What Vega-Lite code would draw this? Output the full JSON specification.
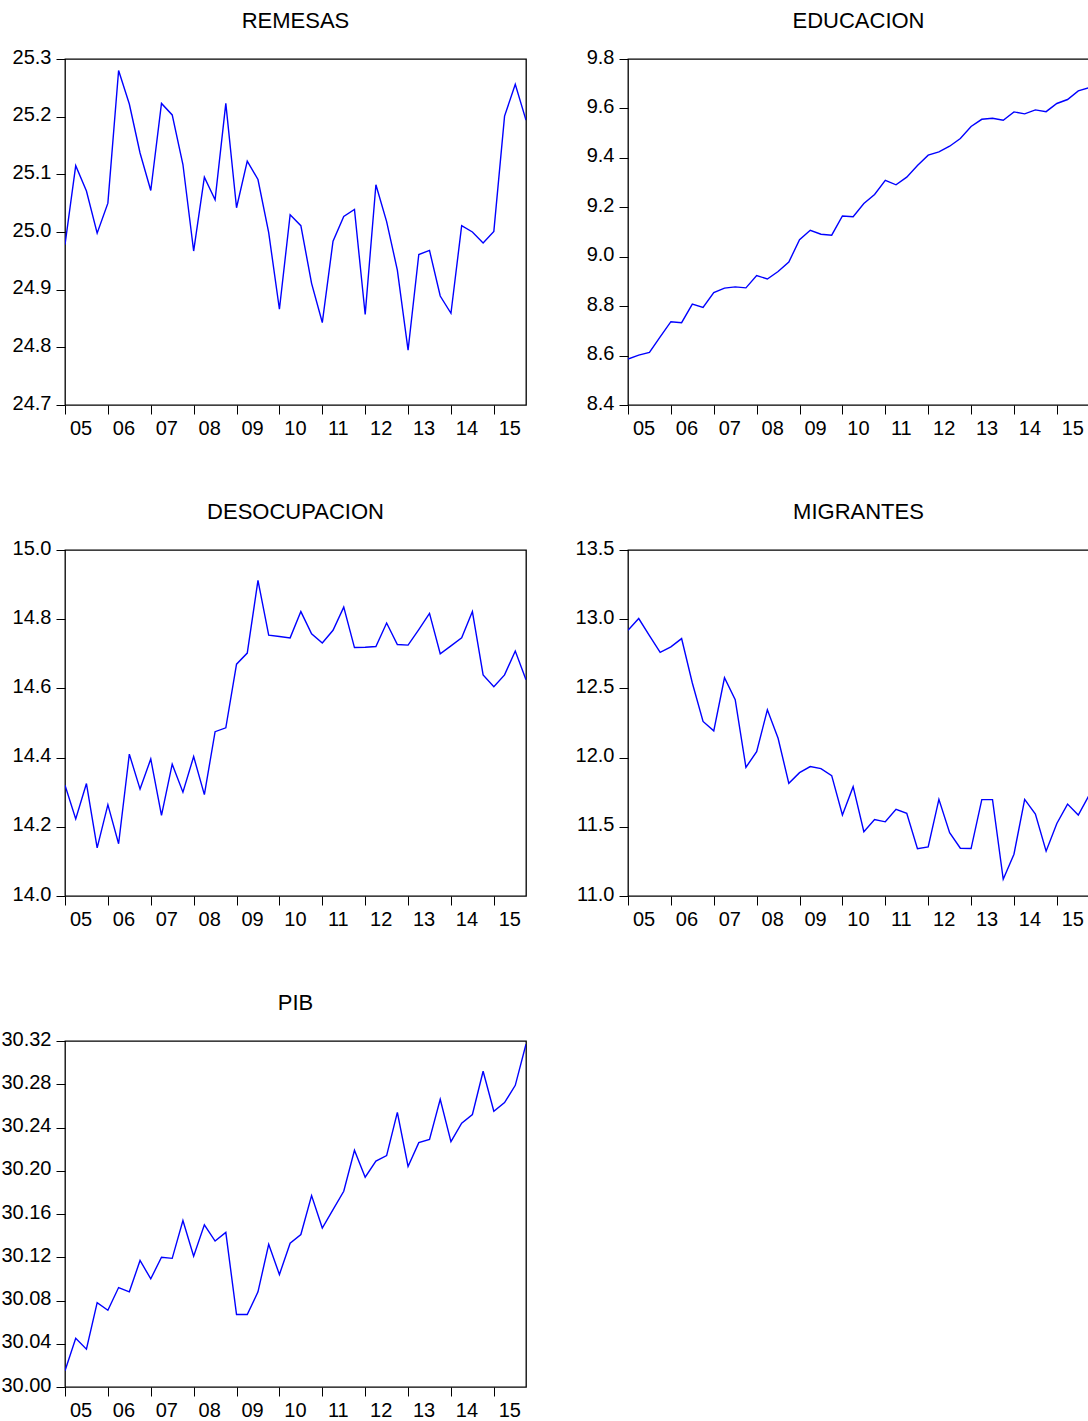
{
  "$schema": "https://vega.github.io/schema/vega-lite/v6.json",
  "padding": {"left": 0, "top": 9, "right": 0, "bottom": 0},
  "background": "white",
  "data": {"values": [
    {"anio": 2005.00, "REMESAS": 24.978, "EDUCACION": 8.586, "DESOCUPACION": 14.320, "MIGRANTES": 12.920, "PIB": 30.015},
    {"anio": 2005.25, "REMESAS": 25.115, "EDUCACION": 8.602, "DESOCUPACION": 14.223, "MIGRANTES": 13.005, "PIB": 30.045},
    {"anio": 2005.50, "REMESAS": 25.071, "EDUCACION": 8.613, "DESOCUPACION": 14.325, "MIGRANTES": 12.882, "PIB": 30.035},
    {"anio": 2005.75, "REMESAS": 24.998, "EDUCACION": 8.676, "DESOCUPACION": 14.139, "MIGRANTES": 12.761, "PIB": 30.078},
    {"anio": 2006.00, "REMESAS": 25.050, "EDUCACION": 8.737, "DESOCUPACION": 14.264, "MIGRANTES": 12.800, "PIB": 30.071},
    {"anio": 2006.25, "REMESAS": 25.280, "EDUCACION": 8.733, "DESOCUPACION": 14.151, "MIGRANTES": 12.860, "PIB": 30.092},
    {"anio": 2006.50, "REMESAS": 25.222, "EDUCACION": 8.808, "DESOCUPACION": 14.410, "MIGRANTES": 12.539, "PIB": 30.088},
    {"anio": 2006.75, "REMESAS": 25.137, "EDUCACION": 8.795, "DESOCUPACION": 14.309, "MIGRANTES": 12.261, "PIB": 30.117},
    {"anio": 2007.00, "REMESAS": 25.072, "EDUCACION": 8.855, "DESOCUPACION": 14.396, "MIGRANTES": 12.193, "PIB": 30.100},
    {"anio": 2007.25, "REMESAS": 25.223, "EDUCACION": 8.873, "DESOCUPACION": 14.233, "MIGRANTES": 12.577, "PIB": 30.120},
    {"anio": 2007.50, "REMESAS": 25.203, "EDUCACION": 8.878, "DESOCUPACION": 14.381, "MIGRANTES": 12.418, "PIB": 30.119},
    {"anio": 2007.75, "REMESAS": 25.117, "EDUCACION": 8.874, "DESOCUPACION": 14.300, "MIGRANTES": 11.930, "PIB": 30.154},
    {"anio": 2008.00, "REMESAS": 24.967, "EDUCACION": 8.924, "DESOCUPACION": 14.403, "MIGRANTES": 12.043, "PIB": 30.121},
    {"anio": 2008.25, "REMESAS": 25.095, "EDUCACION": 8.910, "DESOCUPACION": 14.293, "MIGRANTES": 12.345, "PIB": 30.150},
    {"anio": 2008.50, "REMESAS": 25.056, "EDUCACION": 8.940, "DESOCUPACION": 14.475, "MIGRANTES": 12.140, "PIB": 30.135},
    {"anio": 2008.75, "REMESAS": 25.223, "EDUCACION": 8.978, "DESOCUPACION": 14.486, "MIGRANTES": 11.814, "PIB": 30.143},
    {"anio": 2009.00, "REMESAS": 25.042, "EDUCACION": 9.069, "DESOCUPACION": 14.670, "MIGRANTES": 11.891, "PIB": 30.067},
    {"anio": 2009.25, "REMESAS": 25.123, "EDUCACION": 9.107, "DESOCUPACION": 14.702, "MIGRANTES": 11.935, "PIB": 30.067},
    {"anio": 2009.50, "REMESAS": 25.091, "EDUCACION": 9.091, "DESOCUPACION": 14.912, "MIGRANTES": 11.920, "PIB": 30.088},
    {"anio": 2009.75, "REMESAS": 24.999, "EDUCACION": 9.087, "DESOCUPACION": 14.754, "MIGRANTES": 11.870, "PIB": 30.132},
    {"anio": 2010.00, "REMESAS": 24.866, "EDUCACION": 9.165, "DESOCUPACION": 14.750, "MIGRANTES": 11.585, "PIB": 30.104},
    {"anio": 2010.25, "REMESAS": 25.030, "EDUCACION": 9.162, "DESOCUPACION": 14.746, "MIGRANTES": 11.790, "PIB": 30.133},
    {"anio": 2010.50, "REMESAS": 25.011, "EDUCACION": 9.215, "DESOCUPACION": 14.822, "MIGRANTES": 11.464, "PIB": 30.141},
    {"anio": 2010.75, "REMESAS": 24.911, "EDUCACION": 9.252, "DESOCUPACION": 14.758, "MIGRANTES": 11.553, "PIB": 30.177},
    {"anio": 2011.00, "REMESAS": 24.843, "EDUCACION": 9.309, "DESOCUPACION": 14.731, "MIGRANTES": 11.536, "PIB": 30.147},
    {"anio": 2011.25, "REMESAS": 24.984, "EDUCACION": 9.291, "DESOCUPACION": 14.768, "MIGRANTES": 11.626, "PIB": 30.164},
    {"anio": 2011.50, "REMESAS": 25.027, "EDUCACION": 9.322, "DESOCUPACION": 14.835, "MIGRANTES": 11.597, "PIB": 30.181},
    {"anio": 2011.75, "REMESAS": 25.039, "EDUCACION": 9.369, "DESOCUPACION": 14.718, "MIGRANTES": 11.341, "PIB": 30.219},
    {"anio": 2012.00, "REMESAS": 24.857, "EDUCACION": 9.411, "DESOCUPACION": 14.719, "MIGRANTES": 11.355, "PIB": 30.194},
    {"anio": 2012.25, "REMESAS": 25.082, "EDUCACION": 9.424, "DESOCUPACION": 14.721, "MIGRANTES": 11.698, "PIB": 30.209},
    {"anio": 2012.50, "REMESAS": 25.018, "EDUCACION": 9.447, "DESOCUPACION": 14.789, "MIGRANTES": 11.457, "PIB": 30.214},
    {"anio": 2012.75, "REMESAS": 24.934, "EDUCACION": 9.478, "DESOCUPACION": 14.727, "MIGRANTES": 11.345, "PIB": 30.254},
    {"anio": 2013.00, "REMESAS": 24.795, "EDUCACION": 9.527, "DESOCUPACION": 14.725, "MIGRANTES": 11.343, "PIB": 30.204},
    {"anio": 2013.25, "REMESAS": 24.961, "EDUCACION": 9.556, "DESOCUPACION": 14.770, "MIGRANTES": 11.696, "PIB": 30.226},
    {"anio": 2013.50, "REMESAS": 24.968, "EDUCACION": 9.560, "DESOCUPACION": 14.817, "MIGRANTES": 11.696, "PIB": 30.229},
    {"anio": 2013.75, "REMESAS": 24.889, "EDUCACION": 9.552, "DESOCUPACION": 14.700, "MIGRANTES": 11.121, "PIB": 30.266},
    {"anio": 2014.00, "REMESAS": 24.859, "EDUCACION": 9.586, "DESOCUPACION": 14.723, "MIGRANTES": 11.302, "PIB": 30.227},
    {"anio": 2014.25, "REMESAS": 25.011, "EDUCACION": 9.578, "DESOCUPACION": 14.746, "MIGRANTES": 11.698, "PIB": 30.244},
    {"anio": 2014.50, "REMESAS": 25.000, "EDUCACION": 9.594, "DESOCUPACION": 14.822, "MIGRANTES": 11.592, "PIB": 30.252},
    {"anio": 2014.75, "REMESAS": 24.981, "EDUCACION": 9.587, "DESOCUPACION": 14.639, "MIGRANTES": 11.324, "PIB": 30.292},
    {"anio": 2015.00, "REMESAS": 25.001, "EDUCACION": 9.620, "DESOCUPACION": 14.605, "MIGRANTES": 11.524, "PIB": 30.255},
    {"anio": 2015.25, "REMESAS": 25.201, "EDUCACION": 9.636, "DESOCUPACION": 14.639, "MIGRANTES": 11.664, "PIB": 30.263},
    {"anio": 2015.50, "REMESAS": 25.256, "EDUCACION": 9.671, "DESOCUPACION": 14.708, "MIGRANTES": 11.585, "PIB": 30.279},
    {"anio": 2015.75, "REMESAS": 25.194, "EDUCACION": 9.684, "DESOCUPACION": 14.625, "MIGRANTES": 11.727, "PIB": 30.317}
  ]},
  "columns": 2,
  "bounds": "flush",
  "spacing": {"row": 145, "column": 102},
  "config": {
    "font": "Liberation Sans",
    "view": {"stroke": "black", "strokeWidth": 1.3},
    "title": {"fontSize": 22, "fontWeight": "normal", "color": "black", "anchor": "middle", "baseline": "alphabetic", "offset": 14, "font": "Liberation Sans"},
    "axis": {"grid": false, "domain": false, "tickColor": "black", "tickSize": 9, "tickWidth": 1, "labelFontSize": 20, "labelColor": "black", "labelFont": "Liberation Sans", "labelFlush": false, "labelOverlap": false, "title": null},
    "line": {"color": "#0000FF", "strokeWidth": 1.4}
  },
  "concat": [
    {
      "title": "REMESAS",
      "width": 461, "height": 346,
      "mark": {"type": "line", "clip": true},
      "encoding": {
        "x": {"field": "anio", "type": "quantitative", "scale": {"domain": [2005, 2015.75], "nice": false, "zero": false},
              "axis": {"values": [2005, 2006, 2007, 2008, 2009, 2010, 2011, 2012, 2013, 2014, 2015], "format": "d", "labelExpr": "substring(datum.label, 2, 4)", "labelOffset": 15.5, "labelPadding": 4, "labelAlign": "center", "labelBaseline": "top"}},
        "y": {"field": "REMESAS", "type": "quantitative", "scale": {"domain": [24.7, 25.3], "nice": false, "zero": false},
              "axis": {"values": [24.7, 24.8, 24.9, 25.0, 25.1, 25.2, 25.3], "format": ".1f", "labelBaseline": "alphabetic", "labelOffset": 4, "labelPadding": 5}}
      }
    },
    {
      "title": "EDUCACION",
      "width": 461, "height": 346,
      "mark": {"type": "line", "clip": true},
      "encoding": {
        "x": {"field": "anio", "type": "quantitative", "scale": {"domain": [2005, 2015.75], "nice": false, "zero": false},
              "axis": {"values": [2005, 2006, 2007, 2008, 2009, 2010, 2011, 2012, 2013, 2014, 2015], "format": "d", "labelExpr": "substring(datum.label, 2, 4)", "labelOffset": 15.5, "labelPadding": 4, "labelAlign": "center", "labelBaseline": "top"}},
        "y": {"field": "EDUCACION", "type": "quantitative", "scale": {"domain": [8.4, 9.8], "nice": false, "zero": false},
              "axis": {"values": [8.4, 8.6, 8.8, 9.0, 9.2, 9.4, 9.6, 9.8], "format": ".1f", "labelBaseline": "alphabetic", "labelOffset": 4, "labelPadding": 5}}
      }
    },
    {
      "title": "DESOCUPACION",
      "width": 461, "height": 346,
      "mark": {"type": "line", "clip": true},
      "encoding": {
        "x": {"field": "anio", "type": "quantitative", "scale": {"domain": [2005, 2015.75], "nice": false, "zero": false},
              "axis": {"values": [2005, 2006, 2007, 2008, 2009, 2010, 2011, 2012, 2013, 2014, 2015], "format": "d", "labelExpr": "substring(datum.label, 2, 4)", "labelOffset": 15.5, "labelPadding": 4, "labelAlign": "center", "labelBaseline": "top"}},
        "y": {"field": "DESOCUPACION", "type": "quantitative", "scale": {"domain": [14.0, 15.0], "nice": false, "zero": false},
              "axis": {"values": [14.0, 14.2, 14.4, 14.6, 14.8, 15.0], "format": ".1f", "labelBaseline": "alphabetic", "labelOffset": 4, "labelPadding": 5}}
      }
    },
    {
      "title": "MIGRANTES",
      "width": 461, "height": 346,
      "mark": {"type": "line", "clip": true},
      "encoding": {
        "x": {"field": "anio", "type": "quantitative", "scale": {"domain": [2005, 2015.75], "nice": false, "zero": false},
              "axis": {"values": [2005, 2006, 2007, 2008, 2009, 2010, 2011, 2012, 2013, 2014, 2015], "format": "d", "labelExpr": "substring(datum.label, 2, 4)", "labelOffset": 15.5, "labelPadding": 4, "labelAlign": "center", "labelBaseline": "top"}},
        "y": {"field": "MIGRANTES", "type": "quantitative", "scale": {"domain": [11.0, 13.5], "nice": false, "zero": false},
              "axis": {"values": [11.0, 11.5, 12.0, 12.5, 13.0, 13.5], "format": ".1f", "labelBaseline": "alphabetic", "labelOffset": 4, "labelPadding": 5}}
      }
    },
    {
      "title": "PIB",
      "width": 461, "height": 346,
      "mark": {"type": "line", "clip": true},
      "encoding": {
        "x": {"field": "anio", "type": "quantitative", "scale": {"domain": [2005, 2015.75], "nice": false, "zero": false},
              "axis": {"values": [2005, 2006, 2007, 2008, 2009, 2010, 2011, 2012, 2013, 2014, 2015], "format": "d", "labelExpr": "substring(datum.label, 2, 4)", "labelOffset": 15.5, "labelPadding": 4, "labelAlign": "center", "labelBaseline": "top"}},
        "y": {"field": "PIB", "type": "quantitative", "scale": {"domain": [30.0, 30.32], "nice": false, "zero": false},
              "axis": {"values": [30.0, 30.04, 30.08, 30.12, 30.16, 30.2, 30.24, 30.28, 30.32], "format": ".2f", "labelBaseline": "alphabetic", "labelOffset": 4, "labelPadding": 5}}
      }
    }
  ]
}
